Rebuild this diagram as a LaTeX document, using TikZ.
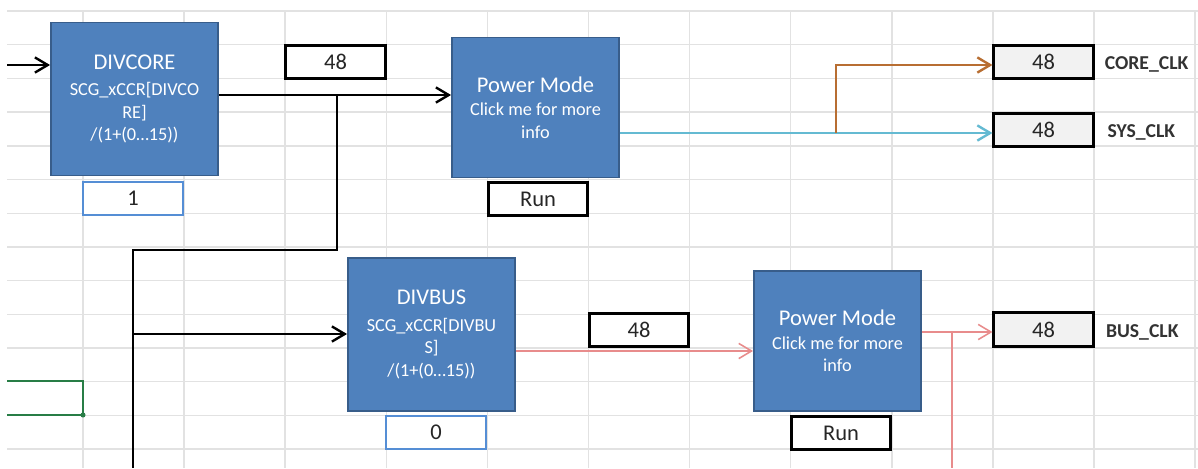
\documentclass[tikz,border=0pt]{standalone}
\usepackage{fontspec}
\setmainfont{Carlito}
\usetikzlibrary{positioning,arrows.meta}

\definecolor{blockblue}{RGB}{79,129,189}
\definecolor{blockedge}{RGB}{56,93,138}
\definecolor{cellgrid}{RGB}{226,226,226}
\definecolor{selblue}{RGB}{85,142,213}
\definecolor{sysline}{RGB}{100,186,210}
\definecolor{coreline}{RGB}{184,110,50}
\definecolor{busline}{RGB}{232,140,140}
\definecolor{selgreen}{RGB}{40,125,70}
\definecolor{outfill}{RGB}{242,242,242}

\tikzset{
  divblock/.style={draw=blockedge, line width=1.2pt, fill=blockblue, text=white,
    align=center, minimum width=4.18cm, minimum height=3.82cm, inner sep=0pt,
    font=\fontsize{13}{16}\selectfont},
  pmblock/.style={divblock, minimum height=3.5cm},
  valcell/.style={draw=black, line width=2pt, fill=white, minimum width=2.48cm,
    minimum height=0.84cm, inner sep=0pt, font=\fontsize{16}{19}\selectfont, text=black!85},
  inputcell/.style={valcell, draw=selblue, line width=1.5pt},
  outcell/.style={valcell, fill=outfill},
  clkname/.style={font=\bfseries\fontsize{14}{17}\selectfont, text=black!80, inner sep=0pt, yshift=-2pt},
  wire/.style={line width=1.7pt, -{Straight Barb[length=3.2mm,width=3.8mm]}},
}

\begin{document}
\begin{tikzpicture}[x=0.025cm, y=-0.025cm]
\useasboundingbox[fill=white] (0,0) rectangle (1198,468);

% spreadsheet cells behind the blocks
\foreach \gy in {0,...,13}
  \draw[cellgrid, line width=1pt] (7,{11+33.7*\gy}) -- (1198,{11+33.7*\gy});
\foreach \gx in {0,...,11}
  \draw[cellgrid, line width=1pt] ({83+101.1*\gx},10) -- ({83+101.1*\gx},468);

% selected cell, partly shown
\draw[selgreen, line width=1.2pt] (7,381) -- (83,381) -- (83,415) -- (7,415);
\fill[selgreen] (83,415) circle (1.8pt);

% dividers and power modes
\node[divblock] (core) at (134.5,99)
  {{\fontsize{16}{19}\selectfont DIVCORE}\\[3pt] SCG\_xCCR[DIVCO\\RE]\\/(1+(0…15))};
\node[divblock] (bus) at (431.5,334.5)
  {{\fontsize{16}{19}\selectfont DIVBUS}\\[3pt] SCG\_xCCR[DIVBU\\S]\\/(1+(0…15))};
\node[pmblock] (pm1) at (535.5,107.5)
  {{\fontsize{16}{19}\selectfont Power Mode}\\[1pt] Click me for more\\info};
\node[pmblock] (pm2) at (837.5,341)
  {{\fontsize{16}{19}\selectfont Power Mode}\\[1pt] Click me for more\\info};

% setting cells
\node[inputcell] (coresel) at (133,198.5) {1};
\node[inputcell] (bussel) at (436,432.5) {0};
\node[valcell] (run1) at (538,199) {Run};
\node[valcell] (run2) at (841,433) {Run};

% frequencies
\node[valcell] (corefreq) at (335.5,62) {48};
\node[valcell] (busfreq) at (639,330) {48};
\node[outcell] (coreclk) at (1043.5,62) {48};
\node[outcell] (sysclk) at (1043.5,130) {48};
\node[outcell] (busclk) at (1043.5,329.5) {48};
\node[clkname, right=0.25cm of coreclk] (corename) {CORE\_CLK};
\node[clkname, right=0.32cm of sysclk] (sysname) {SYS\_CLK};
\node[clkname, right=0.28cm of busclk] (busname) {BUS\_CLK};

% clock wiring
\coordinate (srcin) at (7,65);
\coordinate (coretap) at (337,95);
\coordinate (feedleft) at (133,250);
\coordinate (feedbus) at (133,334);
\coordinate (feedend) at (133,468);
\draw[wire] (srcin) -- (srcin -| core.west);
\draw[wire] (core.east |- coretap) -- (coretap -| pm1.west);
\draw[line width=1.7pt] (coretap) |- (feedleft) -- (feedend);
\draw[wire] (feedbus) -- (feedbus -| bus.west);

\coordinate (systap) at (836,133);
\coordinate (coretip) at (990,65);
\draw[wire, sysline] (systap -| pm1.east) -- (systap -| sysclk.west);
\draw[wire, coreline] (systap) |- (coretip -| coreclk.west);

\coordinate (busrow) at (600,351);
\coordinate (bustap) at (952,332);
\coordinate (busend) at (952,468);
\draw[wire, busline, line width=1.1pt] (bus.east |- busrow) -- (busrow -| pm2.west);
\draw[wire, busline, line width=1.1pt] (pm2.east |- bustap) -- (bustap -| busclk.west);
\draw[busline, line width=1.1pt] (bustap) -- (busend);

\end{tikzpicture}
\end{document}
